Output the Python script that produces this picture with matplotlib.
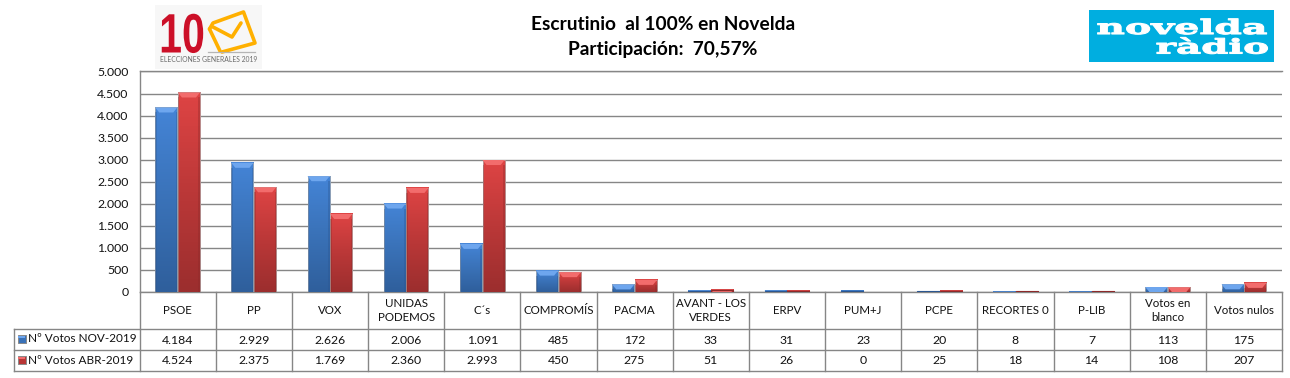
import numpy as np
import matplotlib
matplotlib.use("Agg")
import matplotlib.pyplot as plt
from matplotlib.patches import Rectangle, Polygon
from matplotlib.patheffects import AbstractPathEffect
from matplotlib.transforms import Affine2D
from matplotlib.colors import LinearSegmentedColormap

categories = ["PSOE", "PP", "VOX", "UNIDAS\nPODEMOS", "C´s", "COMPROMÍS", "PACMA",
              "AVANT - LOS\nVERDES", "ERPV", "PUM+J", "PCPE", "RECORTES 0", "P-LIB",
              "Votos en\nblanco", "Votos nulos"]
nov_2019 = [4184, 2929, 2626, 2006, 1091, 485, 172, 33, 31, 23, 20, 8, 7, 113, 175]
abr_2019 = [4524, 2375, 1769, 2360, 2993, 450, 275, 51, 26, 0, 25, 18, 14, 108, 207]
series_names = ["Nº Votos NOV-2019", "Nº Votos ABR-2019"]
y_ticks = [0, 500, 1000, 1500, 2000, 2500, 3000, 3500, 4000, 4500, 5000]
title_lines = ["Escrutinio  al 100% en Novelda", "Participación:  70,57%"]

W, H = 1290, 378
LEFT, RIGHT, TOP, BOTTOM = 139.5, 1282.0, 71.5, 292.0
ROWS = [328.5, 349.5, 370.5]
LEG_LEFT = 13.5
GRID = "#868686"
FONT = "Lato"
plt.rcParams["font.family"] = FONT


def fmt(v):
    return f"{v:,}".replace(",", ".")


class HScale(AbstractPathEffect):
    """Stretch a text's glyphs horizontally about its anchor."""
    def __init__(self, sx, cx, stroke=0.0):
        super().__init__()
        self.sx, self.cx, self.stroke = sx, cx, stroke

    def draw_path(self, renderer, gc, tpath, affine, rgbFace=None):
        t = affine + Affine2D().translate(-self.cx, 0).scale(self.sx, 1).translate(self.cx, 0)
        g = renderer.new_gc()
        g.copy_properties(gc)
        if self.stroke:
            g.set_linewidth(self.stroke)
            g.set_foreground(rgbFace)
        renderer.draw_path(g, tpath, t, rgbFace)
        g.restore()


fig = plt.figure(figsize=(W / 100, H / 100), dpi=100, facecolor="white")
ov = fig.add_axes([0, 0, 1, 1])
ov.set_xlim(0, W)
ov.set_ylim(H, 0)
ov.axis("off")

ax = fig.add_axes([LEFT / W, 1 - BOTTOM / H, (RIGHT - LEFT) / W, (BOTTOM - TOP) / H])
ax.patch.set_alpha(0)
n = len(categories)
x = np.arange(n) + 0.5
bw = 0.29
blue = LinearSegmentedColormap.from_list("b", ["#2f5f9c", "#3a72b8", "#4484d6"])
red = LinearSegmentedColormap.from_list("r", ["#9c2e2e", "#bb3838", "#de4444"])
grad = np.linspace(1, 0, 64).reshape(-1, 1)
bev_px_y, bev_px_x = 5.0, 4.0
u_y = 5000 / (BOTTOM - TOP)
u_x = n / (RIGHT - LEFT)

for vals, off, cmap, light, shade in [
    (nov_2019, -bw / 2 - 0.004, blue, "#6ea6ee", "#2b5690"),
    (abr_2019, bw / 2 + 0.004, red, "#f26c6c", "#8c2a2a"),
]:
    bars = ax.bar(x + off, vals, bw, color="none", edgecolor="#b0b0b0", linewidth=0.5, zorder=3.2)
    for b in bars:
        h = b.get_height()
        if h <= 0:
            b.set_linewidth(0)
            continue
        if h < 100:
            b.set_edgecolor(shade)
            b.set_linewidth(0.8)
            b.set_zorder(4)
        x0, x1 = b.get_x(), b.get_x() + b.get_width()
        ax.imshow(grad, extent=[x0, x1, 0, h], aspect="auto", cmap=cmap, vmin=0, vmax=1, zorder=3)
        bh = min(bev_px_y * u_y, h)
        ins = bev_px_x * u_x * bh / (bev_px_y * u_y)
        ax.add_patch(Polygon([(x0, h), (x1, h), (x1 - ins, h - bh), (x0 + ins, h - bh)],
                             closed=True, fc=light, ec="none", zorder=3.5))
        side = 1.5 * u_x
        if h > bh:
            ax.add_patch(Rectangle((x0, 0), side, h - bh, fc=shade, ec="none", alpha=0.35, zorder=3.5))
            ax.add_patch(Rectangle((x1 - side, 0), side, h - bh, fc=shade, ec="none", alpha=0.35, zorder=3.5))

ax.set_xlim(0, n)
ax.set_ylim(0, 5000)
ax.set_yticks(y_ticks)
ax.set_yticklabels([fmt(v) for v in y_ticks], fontsize=8.8, color="#111111")
ax.set_xticks([])
ax.tick_params(axis="y", length=0, pad=8)
ax.grid(axis="y", color=GRID, linewidth=1.0, zorder=1)
ax.set_axisbelow(True)
for s in ["right", "bottom"]:
    ax.spines[s].set_visible(False)
for s in ["left", "top"]:
    ax.spines[s].set_color(GRID)
    ax.spines[s].set_linewidth(1.0)

# data table
cell = (RIGHT - LEFT) / n
lk = dict(color=GRID, linewidth=1.0, zorder=2)
ov.plot([LEFT, RIGHT], [BOTTOM, BOTTOM], **lk)
for yy in ROWS:
    ov.plot([LEG_LEFT, RIGHT], [yy, yy], **lk)
for i in range(n + 1):
    xx = LEFT + i * cell
    ov.plot([xx, xx], [BOTTOM, ROWS[-1]], **lk)
ov.plot([LEG_LEFT, LEG_LEFT], [ROWS[0], ROWS[-1]], **lk)

for i, c in enumerate(categories):
    cx = LEFT + (i + 0.5) * cell
    ov.text(cx, 310.5, c, ha="center", va="center", fontsize=8.3, color="#111111", linespacing=1.38)
    ov.text(cx, 340, fmt(nov_2019[i]), ha="center", va="center", fontsize=8.8, color="#111111")
    ov.text(cx, 361, fmt(abr_2019[i]), ha="center", va="center", fontsize=8.8, color="#111111")

for yy, name, face, top in [(339, series_names[0], "#3a72b8", "#6ea6ee"),
                            (360, series_names[1], "#b83636", "#f26c6c")]:
    ov.add_patch(Rectangle((17.5, yy - 4), 8, 8, fc=face, ec="#8a8a8a", lw=0.7, zorder=3))
    ov.add_patch(Rectangle((18, yy - 3.5), 7, 2.5, fc=top, ec="none", zorder=3.5))
    ov.text(28, yy, name, ha="left", va="center", fontsize=8.5, color="#111111")

# titles
for yy, t in zip([24, 49], title_lines):
    ov.text(663, yy, t, ha="center", va="center", fontsize=13.8, fontweight="bold", color="black")

# election logo
ov.add_patch(Rectangle((155, 5), 107, 64, fc="#f7f7f7", ec="none"))
t10 = ov.text(182, 52.5, "10", ha="center", va="baseline", fontsize=40, fontweight="bold",
              family="Liberation Sans", color="#cc1028")
t10.set_path_effects([HScale(0.74, 182)])
ov.plot([209.5, 213, 243.5, 255, 222], [29, 23, 12, 43, 52], color="#ffb000", lw=2.6,
        solid_joinstyle="round", solid_capstyle="round")
ov.plot([209.5, 220], [29, 51], color="#ffb000", lw=2.6, solid_capstyle="round")
ov.plot([213, 232, 241], [27, 37, 23], color="#ffb000", lw=2.6, solid_capstyle="round")
ov.plot([208, 255], [51.5, 51.5], color="#b5b5b5", lw=0.9)
ov.text(208.5, 59, "ELECCIONES GENERALES 2019", ha="center", va="center", fontsize=4.85, color="#6b6b6b")

# radio logo
ov.add_patch(Rectangle((1089, 10), 185, 52, fc="#00aee0", ec="none"))
cx1, cx2 = 1182.0, 1212.5
t1 = ov.text(cx1, 34, "novelda", ha="center", va="baseline", fontsize=14.5, fontweight="bold",
             family="DejaVu Serif", color="white")
t2 = ov.text(cx2, 53.5, "ràdio", ha="center", va="baseline", fontsize=14.5, fontweight="bold",
             family="DejaVu Serif", color="white")
t1.set_path_effects([HScale(1.96, cx1, stroke=0.8)])
t2.set_path_effects([HScale(1.93, cx2, stroke=0.8)])

fig.savefig("out.png", dpi=100, facecolor="white")
